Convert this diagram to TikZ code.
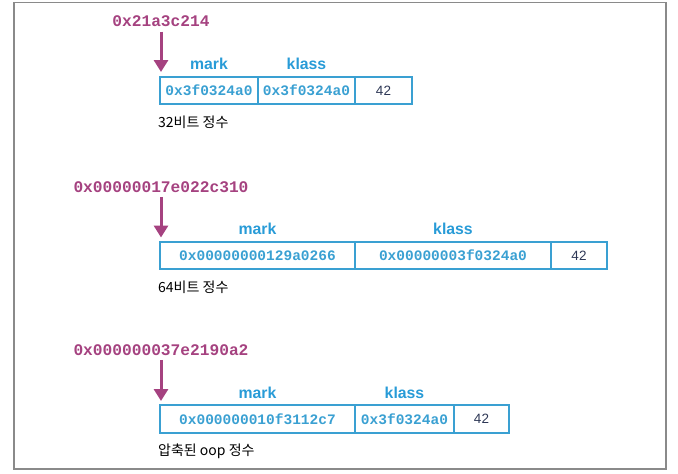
\documentclass[tikz,border=0pt]{standalone}
\usepackage{fontspec}
\setmainfont{Liberation Sans}
\newfontfamily\monob{Liberation Mono}
\newfontfamily\krfont{Noto Sans CJK KR}
\usetikzlibrary{arrows.meta}
\definecolor{boxblue}{RGB}{58,160,210}
\definecolor{headblue}{RGB}{40,155,215}
\definecolor{addrmag}{RGB}{165,66,128}
\definecolor{navytxt}{RGB}{45,55,85}
\definecolor{framegray}{RGB}{138,138,138}
\tikzset{
  cell/.style={draw=boxblue, line width=1.3pt, minimum height=27pt, inner sep=0pt,
    font=\monob\bfseries\fontsize{14.5}{16}\selectfont, text=boxblue},
  numcell/.style={cell, font=\fontsize{13.5}{15}\selectfont, text=navytxt},
  head/.style={anchor=base, inner sep=0pt, text=headblue, font=\bfseries\fontsize{15.8}{18}\selectfont},
  addr/.style={anchor=base, inner sep=4.5pt, text=addrmag, font=\monob\bfseries\fontsize{16.2}{18}\selectfont},
  caption/.style={anchor=base west, inner sep=0pt, font=\krfont\fontsize{14}{16}\selectfont},
  ptr/.style={draw=addrmag, line width=3pt, -{Triangle[width=14pt,length=12pt]}}
}
\begin{document}
\begin{tikzpicture}[x=1pt,y=-1pt]
\useasboundingbox (0,0) rectangle (678,474);
\draw[framegray, line width=1.2pt] (14,2.5) rectangle (666,469);

% section 1: 32-bit
\node[addr] (lab1) at (161,26.7) {0x21a3c214};
\coordinate (t1) at (161,72);
\draw[ptr] (lab1) -- (t1);
\node[cell, minimum width=98pt] (c11) at (209,90.5) {0x3f0324a0};
\node[cell, minimum width=97pt] (c12) at (306.5,90.5) {0x3f0324a0};
\node[numcell, minimum width=57pt] (c13) at (383.5,90.5) {42};
\node[head] (m1) at (209,69.5) {mark};
\node[head] (k1) at (306.5,69.5) {klass};
\node[caption] (cap1) at (158,127.5) {32비트 정수};

% section 2: 64-bit
\node[addr] (lab2) at (161,192) {0x00000017e022c310};
\coordinate (t2) at (161,237.5);
\draw[ptr] (lab2) -- (t2);
\node[cell, minimum width=195pt] (c21) at (257.5,255.5) {0x00000000129a0266};
\node[cell, minimum width=196pt] (c22) at (453,255.5) {0x00000003f0324a0};
\node[numcell, minimum width=56pt] (c23) at (579,255.5) {42};
\node[head] (m2) at (257.5,234.5) {mark};
\node[head] (k2) at (453,234.5) {klass};
\node[caption] (cap2) at (158,292) {64비트 정수};

% section 3: compressed oops
\node[addr] (lab3) at (161,355) {0x000000037e2190a2};
\coordinate (t3) at (161,401);
\draw[ptr] (lab3) -- (t3);
\node[cell, minimum width=195pt, minimum height=28pt] (c31) at (257.5,419) {0x000000010f3112c7};
\node[cell, minimum width=99pt, minimum height=28pt] (c32) at (404.5,419) {0x3f0324a0};
\node[numcell, minimum width=55pt, minimum height=28pt] (c33) at (481.5,419) {42};
\node[head] (m3) at (257.5,398) {mark};
\node[head] (k3) at (404.5,398) {klass};
\node[caption] (cap3) at (158,455) {압축된 oop 정수};
\end{tikzpicture}
\end{document}
